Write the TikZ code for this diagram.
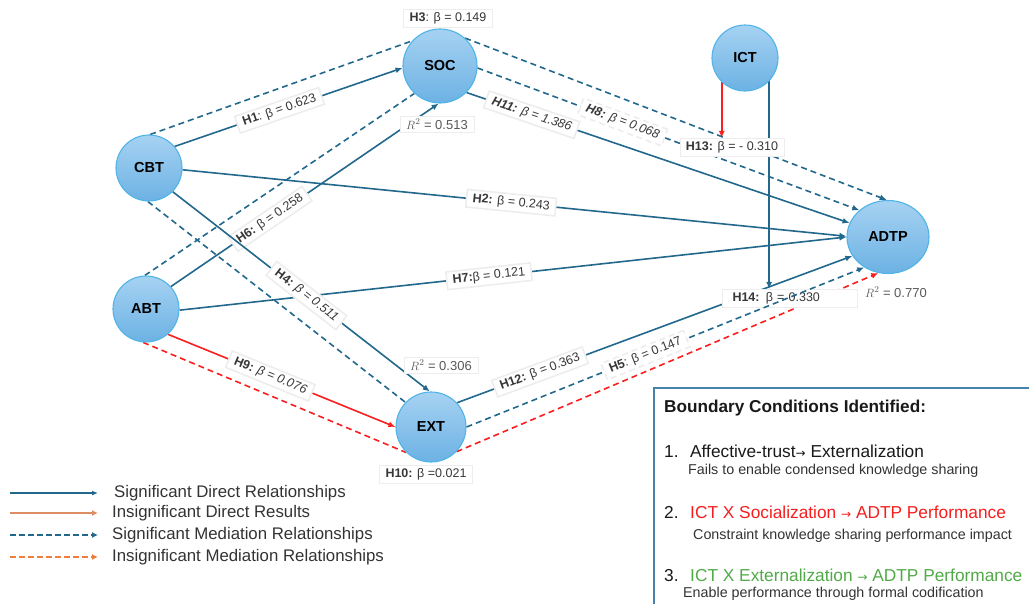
\documentclass[tikz,border=0pt]{standalone}
\usepackage{fontspec}
\setmainfont{Liberation Sans}
\newfontfamily\arrowfont{DejaVu Sans}
\usetikzlibrary{shapes.geometric,arrows.meta}
\definecolor{eb}{RGB}{33,104,140}
\definecolor{er}{RGB}{250,30,30}
\definecolor{nodetop}{RGB}{166,210,242}
\definecolor{nodebot}{RGB}{108,178,228}
\definecolor{nodeedge}{RGB}{80,180,230}
\definecolor{orsolid}{RGB}{221,140,100}
\definecolor{ordash}{RGB}{240,125,60}
\definecolor{gtext}{RGB}{80,170,70}
\definecolor{rtext}{RGB}{245,30,30}
\definecolor{boxedge}{RGB}{70,130,170}
\definecolor{lbltext}{RGB}{55,55,55}
\newcommand{\smallarr}{{\arrowfont\fontsize{12}{13}\selectfont →}}
\pgfdeclarelayer{back}
\pgfsetlayers{back,main}
\begin{document}
\begin{tikzpicture}[x=1pt,y=-1pt,
  var/.style={circle, inner sep=0pt, top color=nodetop, bottom color=nodebot,
    draw=nodeedge, line width=1.1pt, font=\fontsize{14.5}{16}\selectfont\bfseries},
  tip/.style={-{Latex[length=7pt,width=6pt]}},
  sd/.style={eb, line width=1.6pt},
  md/.style={eb, line width=1.6pt, dash pattern=on 6pt off 4pt},
  rs/.style={er, line width=1.6pt},
  rd/.style={er, line width=1.6pt, dash pattern=on 6pt off 4pt},
  lbl/.style={fill=white, draw=black!7, inner xsep=6pt, inner ysep=3pt, text=lbltext,
    font=\fontsize{12.5}{14}\selectfont},
  rtwo/.style={fill=white, draw=black!7, inner xsep=6pt, inner ysep=3pt, text=black!65,
    font=\fontsize{13}{15}\selectfont},
  legtext/.style={anchor=west, inner sep=0pt, text=black!80, font=\fontsize{16.8}{18}\selectfont},
  bxtitle/.style={anchor=base west, inner sep=0pt, text=black!90, font=\fontsize{17.2}{19}\selectfont\bfseries},
  bxitem/.style={anchor=base west, inner sep=0pt, font=\fontsize{17.3}{19}\selectfont},
  bxsub/.style={anchor=base west, inner sep=0pt, text=black!80, font=\fontsize{14.3}{16}\selectfont},
]
\useasboundingbox (0,0) rectangle (1029,603);

% variables
\node[var, minimum size=74pt] (SOC) at (440,66) {SOC};
\node[var, minimum size=66pt] (CBT) at (149,168) {CBT};
\node[var, minimum size=66pt] (ABT) at (146,309) {ABT};
\node[var, minimum size=70pt] (EXT) at (431,427) {EXT};
\node[var, minimum size=66pt] (ICT) at (745,58) {ICT};
\node[var, ellipse, minimum width=82pt, minimum height=73pt] (ADTP) at (888,237) {ADTP};

% standalone labels
\node[lbl] (l3) at (448,18) {\textbf{H3}: β = 0.149};
\node[lbl] (l13) at (732,147) {\textbf{H13:} β = - 0.310};
\node[lbl, minimum width=135pt, text width=115pt] (l14) at (790,298) {\textbf{H14:} β = 0.330};
\node[lbl] (l10) at (426,474) {\textbf{H10:} β =0.021};
\node[rtwo] (r1) at (437,124) {\(R^2\) = 0.513};
\node[rtwo] (r2) at (441,365) {\(R^2\) = 0.306};
\node[rtwo, draw=none, fill=none] (r3) at (896,292) {\(R^2\) = 0.770};

\begin{pgfonlayer}{back}
% mediation (dashed) paths
\draw[md] (CBT.88) -- (SOC.138);
\draw[md, tip] (SOC.48) -- (ADTP.92);
\draw[md] (ABT.92) -- (SOC.227);
\draw[md, tip] (SOC.-3) -- node[lbl, sloped, pos=0.38] (l8) {\textbf{\itshape H8:} \itshape β = 0.068} (ADTP.137);
\draw[md] (CBT.268) -- (EXT.136);
% direct paths
\draw[sd, tip] (CBT.40) -- node[lbl, sloped, pos=0.46] (l1) {\textbf{H1}: β = 0.623} (SOC.183);
\draw[sd, tip] (CBT.-3) -- node[lbl, sloped, pos=0.495] (l2) {\textbf{H2:} β = 0.243} (ADTP.179);
\draw[sd, tip] (ABT.-2) -- node[lbl, sloped, pos=0.464] (l7) {\textbf{H7:}β = 0.121} (ADTP.180);
\draw[sd, tip] (ABT.42) -- node[lbl, sloped, pos=0.37] (l6) {\textbf{H6:} β = 0.258} (SOC.268);
\draw[sd, tip] (CBT.-45) -- node[lbl, sloped, pos=0.52] (l4) {\textbf{H4:} \itshape β = 0.511} (EXT.92);
\draw[sd, tip] (SOC.-45) -- node[lbl, sloped, pos=0.17] (l11) {\textbf{\itshape H11:} \itshape β = 1.386} (ADTP.160);
\draw[sd, tip] (EXT.43) -- node[lbl, sloped, pos=0.21] (l12) {\textbf{H12:} β = 0.363} (ADTP.208);
\draw[rs, tip] (ABT.-49) -- node[lbl, sloped, pos=0.45] (l9) {\textbf{H9:} \itshape β = 0.076} (EXT.180);
\draw[rd] (ABT.265) -- (EXT.226);
\draw[rd, tip] (EXT.-44) -- (ADTP.255);
% moderation
\draw[sd, tip] (ICT.-44) -- (ICT.-44 |- l14.north);
\draw[rs, tip] (ICT.226) -- (ICT.226 |- l13.north);
\end{pgfonlayer}

\draw[md, tip] (EXT.0) -- node[lbl, sloped, pos=0.45] (l5) {\textbf{H5}: β = 0.147} (ADTP.232);

% legend
\coordinate (a1) at (10,493); \coordinate (b1) at (98,493);
\coordinate (a2) at (10,513); \coordinate (b2) at (98,513);
\coordinate (a3) at (10,535); \coordinate (b3) at (98,535);
\coordinate (a4) at (10,557); \coordinate (b4) at (98,557);
\draw[eb, line width=1.6pt, -{Latex[length=6pt,width=5pt]}] (a1) -- (b1);
\draw[orsolid, line width=2.2pt, -{Latex[length=6pt,width=6pt]}] (a2) -- (b2);
\draw[eb, line width=1.8pt, dash pattern=on 6pt off 3pt, -{Latex[length=6pt,width=6pt]}] (a3) -- (b3);
\draw[ordash, line width=1.8pt, dash pattern=on 6pt off 3pt, -{Latex[length=6pt,width=6pt]}] (a4) -- (b4);
\node[legtext] (t1) at (114,493) {Significant Direct Relationships};
\node[legtext] (t2) at (112,513) {Insignificant Direct Results};
\node[legtext] (t3) at (112,535) {Significant Mediation Relationships};
\node[legtext] (t4) at (112,557) {Insignificant Mediation Relationships};

% boundary conditions box
\coordinate (bxa) at (654,615); \coordinate (bxb) at (654,388); \coordinate (bxc) at (1040,388);
\draw[boxedge, line width=1.2pt] (bxa) -- (bxb) -- (bxc);
\node[bxtitle] (bt) at (664,412) {Boundary Conditions Identified:};
\node[bxitem, text=black!90] (n1) at (664,457) {1.};
\node[bxitem, text=black!90] (i1) at (690,457) {Affective-trust\smallarr\ Externalization};
\node[bxsub] (s1) at (688,474) {Fails to enable condensed knowledge sharing};
\node[bxitem, text=black!90] (n2) at (664,518) {2.};
\node[bxitem, text=rtext] (i2) at (690,518) {ICT X Socialization \smallarr\ ADTP Performance};
\node[bxsub] (s2) at (693,539) {Constraint knowledge sharing performance impact};
\node[bxitem, text=black!90] (n3) at (664,581) {3.};
\node[bxitem, text=gtext] (i3) at (690,581) {ICT X Externalization \smallarr\ ADTP Performance};
\node[bxsub] (s3) at (683,597) {Enable performance through formal codification};
\end{tikzpicture}
\end{document}
